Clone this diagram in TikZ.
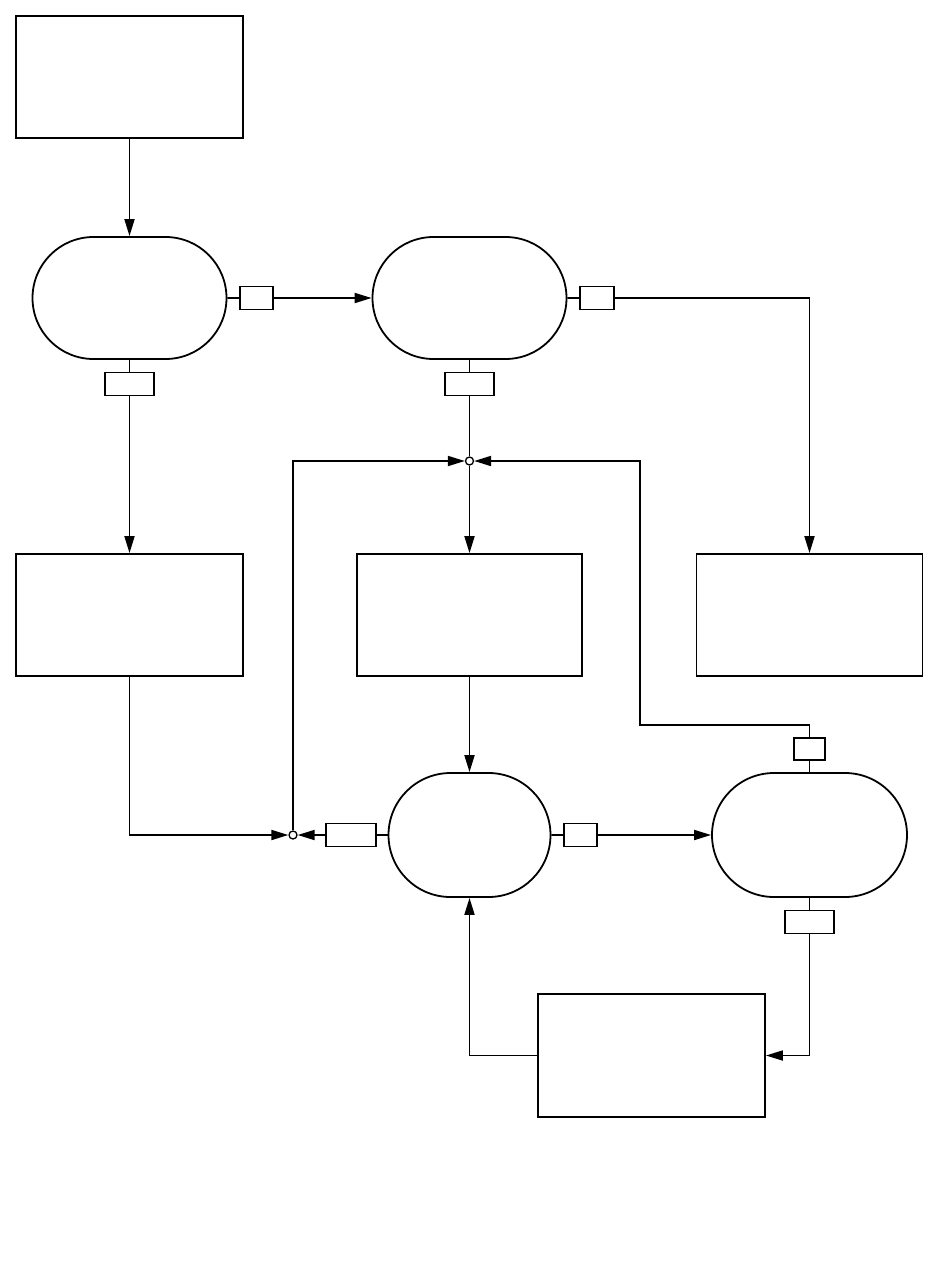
\documentclass[tikz,border=0pt]{standalone}
\usetikzlibrary{arrows.meta,shapes.misc}
\begin{document}
\begin{tikzpicture}[x=1pt,y=-1pt, line width=1.8pt, line join=miter,
 box/.style={draw, rectangle, minimum width=227pt, minimum height=122pt, inner sep=0},
 stad/.style={draw, rounded rectangle, minimum height=122pt, inner sep=0},
 tag/.style={draw, rectangle, minimum height=23pt, inner sep=0},
 junc/.style={draw, circle, fill=white, minimum size=8pt, inner sep=0, line width=1.3pt},
 arr/.style={-{Triangle[length=17pt,width=10pt]}}]
\useasboundingbox (0,0) rectangle (940,1264);
% column x: A=129.5, B=469.5, C=809.5
\node[box] (b1) at (129.5,77) {};
\node[stad, minimum width=194pt] (s1) at (129.5,298) {};
\node[stad, minimum width=194pt] (s2) at (469.5,298) {};
\node[tag, minimum width=33pt] (t12) at (256.5,298) {};
\node[tag, minimum width=34pt] (t2r) at (597,298) {};
\node[tag, minimum width=49pt] (t1b) at (129.5,384) {};
\node[tag, minimum width=49pt] (t2b) at (469.5,384) {};
\node[junc] (j1) at (469.5,461) {};
\node[box] (b4) at (129.5,615) {};
\node[box, minimum width=225pt] (b5) at (469.5,615) {};
\node[box, minimum width=226pt] (b6) at (809.5,615) {};
\node[stad, minimum width=162pt, minimum height=124pt] (s3) at (469.5,835) {};
\node[stad, minimum width=195pt, minimum height=124pt] (s4) at (809.5,835) {};
\node[junc] (j2) at (293,835) {};
\node[tag, minimum width=50pt] (t3l) at (351,835) {};
\node[tag, minimum width=33pt] (t3r) at (580.5,835) {};
\node[tag, minimum width=31pt, minimum height=22pt] (t4t) at (809.5,749) {};
\node[tag, minimum width=49pt] (t4b) at (809.5,922) {};
\node[box, minimum height=123pt] (b7) at (651.5,1055.5) {};
\coordinate (c1) at (640,725);
% connectors
\draw[arr] (b1) -- (s1);
\draw (s1) -- (t12);
\draw[arr] (t12) -- (s2);
\draw (s2) -- (t2r);
\draw[arr] (t2r.east) -| (b6.north);
\draw (s1) -- (t1b);
\draw[arr] (t1b) -- (b4);
\draw (s2) -- (t2b);
\draw (t2b) -- (j1);
\draw[arr] (j1) -- (b5);
\draw[arr] (b4.south) |- (j2);
\draw[arr] (b5) -- (s3);
\draw (s3) -- (t3l);
\draw[arr] (t3l) -- (j2);
\draw (s3) -- (t3r);
\draw[arr] (t3r) -- (s4);
\draw[arr] (j2.north) |- (j1);
\draw (s4) -- (t4t);
\draw[arr] (t4t.north) |- (c1) |- (j1);
\draw (s4) -- (t4b);
\draw[arr] (t4b.south) |- (b7.east);
\draw[arr] (b7.west) -| (s3.south);
\end{tikzpicture}
\end{document}
